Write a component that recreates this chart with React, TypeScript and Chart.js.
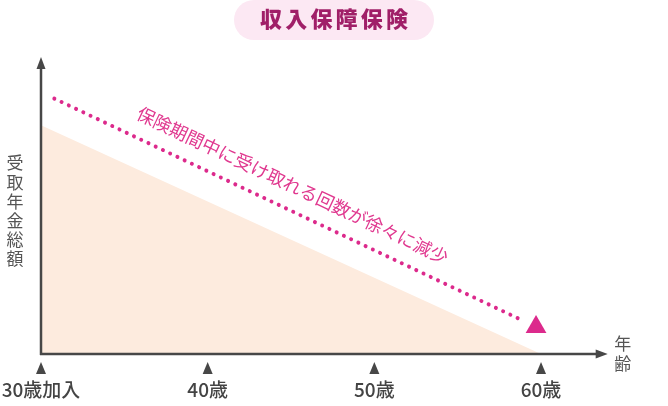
import React, { useEffect, useRef } from "react"
import { Chart, registerables } from "chart.js"

Chart.register(...registerables)

// age axis
const ageTicks = [30, 40, 50, 60]
const ageLabels = ["30歳加入", "40歳", "50歳", "60歳"]

// shaded total (decreasing to zero at 60)
const fillAges = [30, 60]
const fillValues = [77, 0]

// dotted trend line + end marker
const trendAges = [30.8, 59]
const trendValues = [86, 11]
const markerAges = [59.7]
const markerValues = [9.1]

// texts
const titleText = "収入保障保険"
const yTitle = "受取年金総額"
const xTitle = "年齢"
const noteText = "保険期間中に受け取れる回数が徐々に減少"
const noteAge = 45.1
const noteValue = 56.8

const FONT = '"Noto Sans CJK JP", "Noto Sans", sans-serif'
const AXIS_COLOR = "#474747"
const PINK = "#dc2a8c"

const decorPlugin = {
  id: "decor",
  beforeDraw(chart: any) {
    const ctx = chart.ctx
    ctx.save()
    // title pill
    const left = 234
    const right = 434
    const top = 0
    const h = 40
    const r = h / 2
    ctx.fillStyle = "#fce8f3"
    ctx.beginPath()
    ctx.moveTo(left + r, top)
    ctx.lineTo(right - r, top)
    ctx.arc(right - r, top + r, r, -Math.PI / 2, Math.PI / 2)
    ctx.lineTo(left + r, top + h)
    ctx.arc(left + r, top + r, r, Math.PI / 2, (Math.PI * 3) / 2)
    ctx.closePath()
    ctx.fill()
    ctx.fillStyle = "#a01f68"
    ctx.font = `900 22px ${FONT}`
    ctx.textAlign = "center"
    ctx.textBaseline = "middle"
    const cx = (left + right) / 2
    Array.from(titleText).forEach((ch, i) => {
      ctx.fillText(ch, cx + (i - (titleText.length - 1) / 2) * 25.2, 19)
    })
    ctx.restore()
  },
  afterDatasetsDraw(chart: any) {
    const ctx = chart.ctx
    const xs = chart.scales.x
    const ys = chart.scales.y
    const { left, right, top, bottom } = chart.chartArea
    ctx.save()

    // axes
    ctx.strokeStyle = AXIS_COLOR
    ctx.fillStyle = AXIS_COLOR
    ctx.lineWidth = 2.5
    ctx.beginPath()
    ctx.moveTo(left, bottom + 1)
    ctx.lineTo(left, top + 10)
    ctx.moveTo(left - 1, bottom)
    ctx.lineTo(right - 10, bottom)
    ctx.stroke()
    ctx.beginPath()
    ctx.moveTo(left, top)
    ctx.lineTo(left - 4.5, top + 12)
    ctx.lineTo(left + 4.5, top + 12)
    ctx.closePath()
    ctx.fill()
    ctx.beginPath()
    ctx.moveTo(right, bottom)
    ctx.lineTo(right - 12, bottom - 4.5)
    ctx.lineTo(right - 12, bottom + 4.5)
    ctx.closePath()
    ctx.fill()

    // tick markers + labels
    ctx.font = `500 19px ${FONT}`
    ctx.textAlign = "center"
    ctx.textBaseline = "middle"
    ageTicks.forEach((age, i) => {
      const px = xs.getPixelForValue(age)
      ctx.fillStyle = AXIS_COLOR
      ctx.beginPath()
      ctx.moveTo(px, bottom + 8)
      ctx.lineTo(px - 5, bottom + 20)
      ctx.lineTo(px + 5, bottom + 20)
      ctx.closePath()
      ctx.fill()
      ctx.fillStyle = "#444"
      ctx.fillText(ageLabels[i], px, bottom + 36)
    })

    // y title (vertical)
    ctx.fillStyle = "#555"
    ctx.font = `17px ${FONT}`
    Array.from(yTitle).forEach((ch, i) => {
      ctx.fillText(ch, 15, 163 + i * 19.2)
    })
    // x title (vertical)
    Array.from(xTitle).forEach((ch, i) => {
      ctx.fillText(ch, right + 15, bottom - 10 + i * 20)
    })

    // rotated note along trend line
    const x0 = xs.getPixelForValue(trendAges[0])
    const y0 = ys.getPixelForValue(trendValues[0])
    const x1 = xs.getPixelForValue(trendAges[1])
    const y1 = ys.getPixelForValue(trendValues[1])
    const angle = Math.atan2(y1 - y0, x1 - x0)
    ctx.translate(xs.getPixelForValue(noteAge), ys.getPixelForValue(noteValue))
    ctx.rotate(angle)
    ctx.fillStyle = "#e0388f"
    ctx.font = `18px ${FONT}`
    ctx.fillText(noteText, 0, 0)
    ctx.restore()
  },
}

const App: React.FC = () => {
  const canvasRef = useRef<HTMLCanvasElement | null>(null)
  const chartInstance = useRef<Chart | null>(null)

  useEffect(() => {
    if (!canvasRef.current) return
    const ctx = canvasRef.current.getContext("2d")
    if (!ctx) return
    if (chartInstance.current) chartInstance.current.destroy()

    chartInstance.current = new Chart(ctx, {
      type: "scatter",
      data: {
        datasets: [
          {
            label: "total",
            data: fillAges.map((x, i) => ({ x, y: fillValues[i] })),
            showLine: true,
            fill: "origin",
            backgroundColor: "#fdebde",
            borderWidth: 0,
            pointRadius: 0,
          },
          {
            label: "trend",
            data: trendAges.map((x, i) => ({ x, y: trendValues[i] })),
            showLine: true,
            fill: false,
            borderColor: PINK,
            borderWidth: 4,
            borderDash: [0.01, 8],
            borderCapStyle: "round",
            pointRadius: 0,
          },
          {
            label: "marker",
            data: markerAges.map((x, i) => ({ x, y: markerValues[i] })),
            pointStyle: "triangle",
            pointRadius: 12,
            backgroundColor: PINK,
            borderWidth: 0,
          },
        ],
      },
      options: {
        responsive: true,
        maintainAspectRatio: false,
        animation: false,
        events: [],
        layout: { padding: { left: 41, top: 57, right: 60.3, bottom: 52 } },
        scales: {
          x: { type: "linear", min: 30, max: 64, display: false },
          y: { type: "linear", min: 0, max: 100, display: false },
        },
        plugins: {
          legend: { display: false },
          tooltip: { enabled: false },
        },
      },
      plugins: [decorPlugin],
    })

    return () => {
      if (chartInstance.current) {
        chartInstance.current.destroy()
        chartInstance.current = null
      }
    }
  }, [])

  return (
    <div style={{ position: "fixed", left: 0, top: 0, width: 668, height: 406, background: "#fff" }}>
      <canvas ref={canvasRef} />
    </div>
  )
}

export default App
